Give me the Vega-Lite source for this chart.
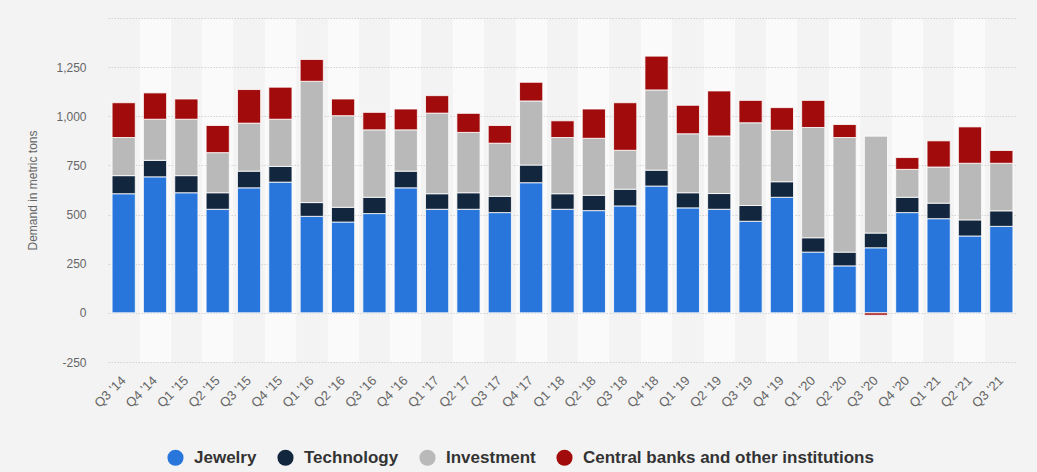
{
  "$schema": "https://vega.github.io/schema/vega-lite/v6.json",
  "width": 909,
  "height": 344,
  "autosize": {"type": "none"},
  "padding": {"left": 108, "top": 18, "right": 20, "bottom": 110},
  "background": "#f3f3f3",
  "config": {
    "font": "Liberation Sans",
    "view": {"stroke": null}
  },
  "data": {
    "values": [
      {"q": "Q3 '14", "Jewelry": 606, "Technology": 92, "Investment": 194, "Central banks and other institutions": 177},
      {"q": "Q4 '14", "Jewelry": 692, "Technology": 84, "Investment": 209, "Central banks and other institutions": 134},
      {"q": "Q1 '15", "Jewelry": 611, "Technology": 87, "Investment": 287, "Central banks and other institutions": 103},
      {"q": "Q2 '15", "Jewelry": 527, "Technology": 84, "Investment": 204, "Central banks and other institutions": 138},
      {"q": "Q3 '15", "Jewelry": 636, "Technology": 85, "Investment": 244, "Central banks and other institutions": 171},
      {"q": "Q4 '15", "Jewelry": 665, "Technology": 80, "Investment": 240, "Central banks and other institutions": 163},
      {"q": "Q1 '16", "Jewelry": 491, "Technology": 70, "Investment": 617, "Central banks and other institutions": 111},
      {"q": "Q2 '16", "Jewelry": 462, "Technology": 75, "Investment": 466, "Central banks and other institutions": 85},
      {"q": "Q3 '16", "Jewelry": 505, "Technology": 83, "Investment": 343, "Central banks and other institutions": 89},
      {"q": "Q4 '16", "Jewelry": 636, "Technology": 85, "Investment": 210, "Central banks and other institutions": 106},
      {"q": "Q1 '17", "Jewelry": 527, "Technology": 79, "Investment": 410, "Central banks and other institutions": 89},
      {"q": "Q2 '17", "Jewelry": 527, "Technology": 84, "Investment": 307, "Central banks and other institutions": 97},
      {"q": "Q3 '17", "Jewelry": 510, "Technology": 83, "Investment": 270, "Central banks and other institutions": 90},
      {"q": "Q4 '17", "Jewelry": 662, "Technology": 90, "Investment": 326, "Central banks and other institutions": 95},
      {"q": "Q1 '18", "Jewelry": 527, "Technology": 79, "Investment": 286, "Central banks and other institutions": 85},
      {"q": "Q2 '18", "Jewelry": 520, "Technology": 78, "Investment": 290, "Central banks and other institutions": 149},
      {"q": "Q3 '18", "Jewelry": 544, "Technology": 85, "Investment": 198, "Central banks and other institutions": 242},
      {"q": "Q4 '18", "Jewelry": 645, "Technology": 81, "Investment": 408, "Central banks and other institutions": 172},
      {"q": "Q1 '19", "Jewelry": 534, "Technology": 77, "Investment": 300, "Central banks and other institutions": 145},
      {"q": "Q2 '19", "Jewelry": 527, "Technology": 80, "Investment": 293, "Central banks and other institutions": 229},
      {"q": "Q3 '19", "Jewelry": 466, "Technology": 80, "Investment": 421, "Central banks and other institutions": 114},
      {"q": "Q4 '19", "Jewelry": 588, "Technology": 79, "Investment": 262, "Central banks and other institutions": 115},
      {"q": "Q1 '20", "Jewelry": 309, "Technology": 73, "Investment": 561, "Central banks and other institutions": 138},
      {"q": "Q2 '20", "Jewelry": 239, "Technology": 70, "Investment": 583, "Central banks and other institutions": 66},
      {"q": "Q3 '20", "Jewelry": 331, "Technology": 75, "Investment": 493, "Central banks and other institutions": -12},
      {"q": "Q4 '20", "Jewelry": 510, "Technology": 78, "Investment": 142, "Central banks and other institutions": 60},
      {"q": "Q1 '21", "Jewelry": 479, "Technology": 79, "Investment": 184, "Central banks and other institutions": 133},
      {"q": "Q2 '21", "Jewelry": 391, "Technology": 82, "Investment": 288, "Central banks and other institutions": 185},
      {"q": "Q3 '21", "Jewelry": 440, "Technology": 79, "Investment": 242, "Central banks and other institutions": 65}
    ]
  },
  "transform": [
    {"fold": ["Jewelry", "Technology", "Investment", "Central banks and other institutions"], "as": ["component", "tons"]},
    {"calculate": "indexof(['Jewelry', 'Technology', 'Investment', 'Central banks and other institutions'], datum.component)", "as": "ord"}
  ],
  "encoding": {
    "x": {
      "field": "q",
      "type": "nominal",
      "sort": null,
      "scale": {"paddingInner": 0.26, "paddingOuter": 0.13},
      "axis": {
        "title": null,
        "labelAngle": -45,
        "labelAlign": "right",
        "labelBaseline": "middle",
        "labelFontSize": 13,
        "labelColor": "#666666",
        "labelPadding": 16,
        "ticks": false,
        "domain": false,
        "grid": true,
        "bandPosition": 0.5,
        "gridWidth": 31.4,
        "gridColor": {"condition": {"test": "round(datum.index * 28) % 2 == 1", "value": "#fafafa"}, "value": "rgba(0,0,0,0)"}
      }
    }
  },
  "layer": [
    {
      "mark": {"type": "bar", "stroke": "#ffffff", "strokeWidth": 1, "strokeOpacity": 0.8},
      "encoding": {
        "y": {
          "field": "tons",
          "type": "quantitative",
          "stack": "zero",
          "scale": {"domain": [-250, 1500], "nice": false},
          "axis": {
            "title": "Demand in metric tons",
            "titleFontSize": 12,
            "titleFontWeight": "normal",
            "titleColor": "#666666",
            "titleX": -69,
            "titleY": 172,
            "values": [-250, 0, 250, 500, 750, 1000, 1250, 1500],
            "labelExpr": "datum.value == 1500 ? '' : (datum.value < 0 ? '-' : '') + format(abs(datum.value), ',.0f')",
            "labelFontSize": 12,
            "labelColor": "#666666",
            "labelPadding": 22,
            "ticks": false,
            "domain": false,
            "grid": true,
            "gridColor": "#d2d2d2",
            "gridDash": [1.5, 1.5],
            "gridWidth": 1
          }
        },
        "color": {
          "field": "component",
          "type": "nominal",
          "scale": {
            "domain": ["Jewelry", "Technology", "Investment", "Central banks and other institutions"],
            "range": ["#2876dc", "#12263d", "#b9b9b9", "#a10b0b"]
          },
          "legend": {
            "title": null,
            "orient": "none",
            "legendX": 59,
            "legendY": 431,
            "direction": "horizontal",
            "symbolType": "circle",
            "symbolSize": 260,
            "symbolStrokeWidth": 0,
            "labelFontSize": 17,
            "labelFontWeight": "bold",
            "labelColor": "#333333",
            "labelOffset": 10,
            "columnPadding": 20,
            "labelLimit": 400,
            "padding": 0
          }
        },
        "order": {"field": "ord", "type": "quantitative", "sort": "ascending"}
      }
    },
    {
      "mark": {"type": "rule", "color": "#666666", "strokeWidth": 2},
      "encoding": {"y": {"datum": 0, "type": "quantitative"}}
    }
  ]
}
